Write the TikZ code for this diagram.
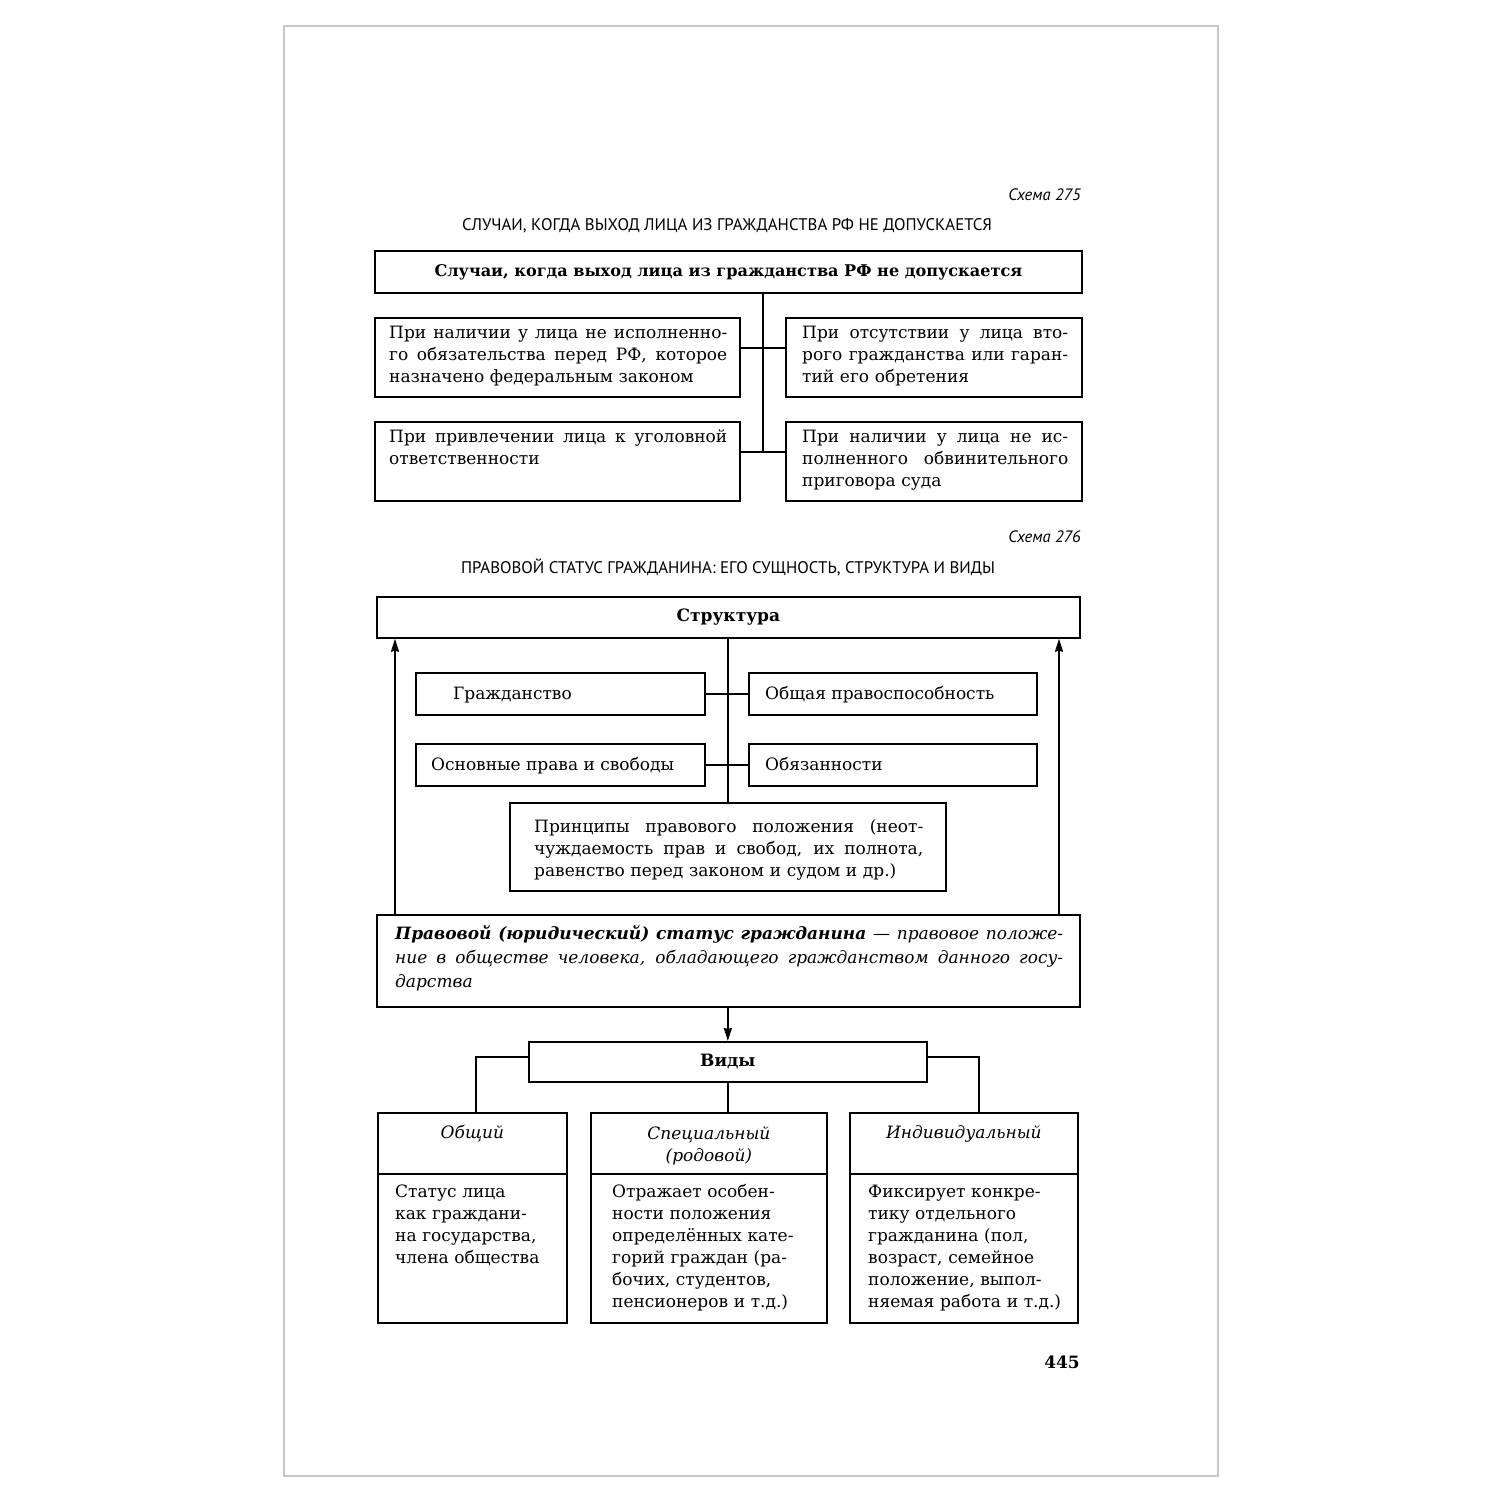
\documentclass[tikz,border=0pt]{standalone}
\usepackage{fontspec}
\setmainfont{DejaVu Serif}
\newfontfamily\hdr{PT Sans}
\usetikzlibrary{arrows.meta}
\newcommand\bodyf{\fontsize{17}{22}\selectfont}
\newcommand\jl[2]{\makebox[#1pt][s]{\spaceskip=0.28em plus 1fil\relax #2}}
\tikzset{
  box/.style={draw, line width=1.7pt, inner sep=0pt, anchor=north west, font=\bodyf},
  pagebox/.style={draw=black!22, line width=1.5pt, inner sep=0pt, anchor=north west},
  conn/.style={line width=1.7pt},
  arr/.style={line width=1.7pt, -{Stealth[length=13pt,width=8pt,inset=1pt]}},
  txt/.style={inner sep=0pt, anchor=base west, align=left, font=\bodyf},
  hd/.style={inner sep=0pt, anchor=base, align=center, font=\bodyf\itshape},
  ttl/.style={inner sep=0pt, anchor=base, font=\hdr\fontsize{16.8}{19}\selectfont},
  sch/.style={inner sep=0pt, anchor=base east, font=\hdr\itshape\fontsize{16.5}{19}\selectfont}
}
\newcommand\bx[6]{\node[box, minimum width={(#4-#2)*1pt}, minimum height={(#5-#3)*1pt}] (#1) at (#2,#3) {#6};}
\begin{document}
\begin{tikzpicture}[x=1pt,y=-1pt]
\useasboundingbox (0,0) rectangle (1500,1500);
\fill[white] (0,0) rectangle (1500,1500);
\node[pagebox, minimum width=934pt, minimum height=1450pt] (page) at (283,25) {};

% ---------- Scheme 275 ----------
\node[sch] (s275) at (1081,200) {Схема 275};
\node[ttl] (t275) at (727,230) {СЛУЧАИ, КОГДА ВЫХОД ЛИЦА ИЗ ГРАЖДАНСТВА РФ НЕ ДОПУСКАЕТСЯ};
\bx{top}{374}{250}{1081}{292}{\fontsize{16.1}{20}\selectfont\bfseries Случаи, когда выход лица из гражданства РФ не допускается}
\bx{L1}{374}{317}{739}{396}{}
\bx{R1}{785}{317}{1081}{396}{}
\bx{L2}{374}{421}{739}{500}{}
\bx{R2}{785}{421}{1081}{500}{}
\node[txt, text width=345pt] (L1t) at (389,338) {\jl{338}{При наличии у лица не исполненно-}\\\jl{338}{го обязательства перед РФ, которое}\\назначено федеральным законом};
\node[txt, text width=270pt] (R1t) at (802,338) {\jl{266}{При отсутствии у лица вто-}\\\jl{266}{рого гражданства или гаран-}\\тий его обретения};
\node[txt, text width=345pt] (L2t) at (389,442) {\jl{338}{При привлечении лица к уголовной}\\ответственности};
\node[txt, text width=270pt] (R2t) at (802,442) {\jl{266}{При наличии у лица не ис-}\\\jl{266}{полненного обвинительного}\\приговора суда};
\coordinate (j1) at (763,348);
\coordinate (j2) at (763,452);
\draw[conn] (top.south -| j1) -- (j2);
\draw[conn] (L1.east |- j1) -- (R1.west |- j1);
\draw[conn] (L2.east |- j2) -- (R2.west |- j2);

% ---------- Scheme 276 ----------
\node[sch] (s276) at (1081,542) {Схема 276};
\node[ttl] (t276) at (728,573) {ПРАВОВОЙ СТАТУС ГРАЖДАНИНА: ЕГО СУЩНОСТЬ, СТРУКТУРА И ВИДЫ};
\bx{struct}{376}{596}{1079}{637}{\bfseries Структура}
\bx{grazh}{415}{672}{704}{714}{}
\bx{obsh}{748}{672}{1036}{714}{}
\bx{osn}{415}{743}{704}{785}{}
\bx{obyaz}{748}{743}{1036}{785}{}
\bx{princ}{509}{802}{945}{890}{}
\bx{def}{376}{914}{1079}{1006}{}
\node[txt] (grazht) at (453,699) {Гражданство};
\node[txt] (obsht) at (765,699) {Общая правоспособность};
\node[txt] (osnt) at (431,770) {Основные права и свободы};
\node[txt] (obyazt) at (765,770) {Обязанности};
\node[txt, text width=395pt] (princt) at (534,832) {\jl{389}{Принципы правового положения (неот-}\\\jl{389}{чуждаемость прав и свобод, их полнота,}\\равенство перед законом и судом и др.)};
\node[txt, text width=675pt, font=\fontsize{17}{24}\selectfont\itshape] (deft) at (395,939) {\jl{668}{{\bfseries Правовой (юридический) статус гражданина} — правовое положе-}\\\jl{668}{ние в обществе человека, обладающего гражданством данного госу-}\\дарства};
\draw[conn] (struct.south -| princ.north) -- (princ.north);
\draw[conn] (grazh.east) -- (obsh.west);
\draw[conn] (osn.east) -- (obyaz.west);
\coordinate (al) at (395,0);
\coordinate (ar) at (1059,0);
\draw[arr] (def.north -| al) -- (struct.south -| al);
\draw[arr] (def.north -| ar) -- (struct.south -| ar);

\bx{vidy}{528}{1041}{926}{1081}{\bfseries Виды}
\draw[arr] (def.south -| vidy.north) -- (vidy.north);
\bx{obh}{377}{1112}{566}{1173}{}
\bx{obb}{377}{1173}{566}{1322}{}
\bx{sph}{590}{1112}{826}{1173}{}
\bx{spb}{590}{1173}{826}{1322}{}
\bx{indh}{849}{1112}{1077}{1173}{}
\bx{indb}{849}{1173}{1077}{1322}{}
\coordinate (kl) at (476,1057);
\coordinate (kr) at (979,1057);
\draw[conn] (vidy.west |- kl) -| (obh.north -| kl);
\draw[conn] (vidy.east |- kr) -| (indh.north -| kr);
\draw[conn] (vidy.south) -- (vidy.south |- sph.north);
\node[hd] (obht) at (obh.north |- 0,1138) {Общий};
\node[hd] (spht) at (sph.north |- 0,1161) {Специальный\\(родовой)};
\node[hd] (indht) at (indh.north |- 0,1138) {Индивидуальный};
\node[txt, text width=165pt] (obbt) at (395,1197) {Статус лица\\как граждани-\\на государства,\\члена общества};
\node[txt, text width=210pt] (spbt) at (612,1197) {Отражает особен-\\ности положения\\определённых кате-\\горий граждан (ра-\\бочих, студентов,\\пенсионеров и т.д.)};
\node[txt, text width=205pt] (indbt) at (868,1197) {Фиксирует конкре-\\тику отдельного\\гражданина (пол,\\возраст, семейное\\положение, выпол-\\няемая работа и т.д.)};

\node[inner sep=0pt, anchor=base east, font=\fontsize{17}{20}\selectfont\bfseries] (pnum) at (1080,1368) {445};
\end{tikzpicture}
\end{document}
